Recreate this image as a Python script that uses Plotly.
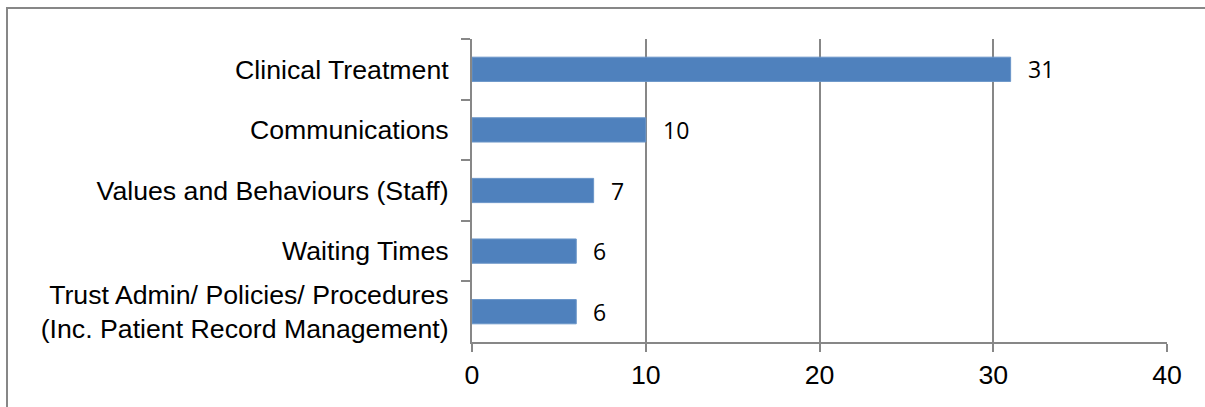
import plotly.graph_objects as go

categories = [
    "Clinical Treatment",
    "Communications",
    "Values and Behaviours (Staff)",
    "Waiting Times",
    "Trust Admin/ Policies/ Procedures<br>(Inc. Patient Record Management)",
]
values = [31, 10, 7, 6, 6]
x_ticks = [0, 10, 20, 30, 40]

W, H = 1205, 407
L, R, T, B = 472, 38, 39, 65
pw, ph = W - L - R, H - T - B

GRAY = "#878787"
BLUE = "#4F81BD"

fig = go.Figure()
fig.add_trace(go.Bar(
    y=categories, x=values, orientation="h",
    marker=dict(color=BLUE, line=dict(color="#6a95c8", width=1)),
    hoverinfo="skip",
))

for c, v in zip(categories, values):
    fig.add_annotation(x=v, y=c, xref="x", yref="y", text=str(v),
                       showarrow=False, xanchor="left", xshift=15,
                       font=dict(family="Open Sans", size=23, color="#000000"))

def px_to_paper_x(px):
    return (px - L) / pw

def px_to_paper_y(py):
    return (H - B - py) / ph

fig.add_shape(type="rect", xref="paper", yref="paper",
              x0=px_to_paper_x(7), x1=px_to_paper_x(1215),
              y0=px_to_paper_y(417), y1=px_to_paper_y(8),
              line=dict(color=GRAY, width=2), fillcolor="rgba(0,0,0,0)",
              layer="below")

fig.update_layout(
    width=W, height=H,
    margin=dict(l=L, r=R, t=T, b=B, pad=0),
    paper_bgcolor="white", plot_bgcolor="white",
    showlegend=False, bargap=0.6,
    font=dict(family="Liberation Sans", size=26.7, color="#000000"),
    xaxis=dict(range=[0, 40], tickvals=x_ticks, ticktext=[str(t) for t in x_ticks],
               showgrid=True, gridcolor=GRAY, gridwidth=2,
               showline=True, linecolor=GRAY, linewidth=2,
               ticks="outside", ticklen=8, tickwidth=2, tickcolor=GRAY,
               zeroline=False, fixedrange=True, ticklabelstandoff=0),
    yaxis=dict(autorange="reversed", type="category",
               showgrid=False, showline=True, linecolor=GRAY, linewidth=2,
               ticks="outside", tickson="boundaries", ticklen=9, tickwidth=2,
               tickcolor=GRAY, zeroline=False, fixedrange=True,
               ticklabelstandoff=16),
)

fig.write_html("out.html")
